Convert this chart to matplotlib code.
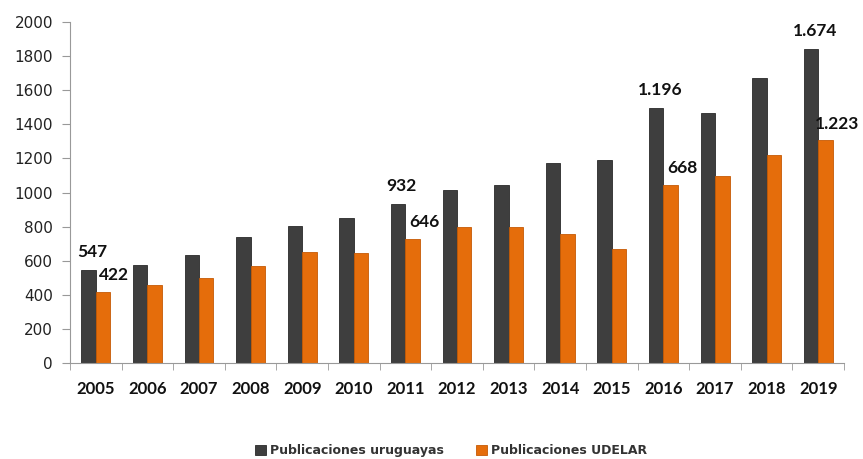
import matplotlib.pyplot as plt
import numpy as np

# Publicaciones por año
years = ['2005', '2006', '2007', '2008', '2009', '2010', '2011', '2012',
         '2013', '2014', '2015', '2016', '2017', '2018', '2019']
uruguayas = [545, 578, 632, 738, 805, 848, 931, 1015, 1046, 1171, 1192,
             1497, 1463, 1673, 1842]
udelar = [419, 457, 498, 571, 649, 644, 727, 799, 799, 755, 672,
          1044, 1097, 1222, 1306]

# etiquetas que aparecen sobre algunas barras
labels_uy = {0: '547', 6: '932', 11: '1.196', 14: '1.674'}
labels_ud = {0: '422', 6: '646', 11: '668', 14: '1.223'}

plt.rcParams['font.family'] = ['Lato', 'DejaVu Sans']

fig = plt.figure(figsize=(8.63, 4.59), dpi=100)
ax = fig.add_axes([0.0811, 0.2085, 0.897, 0.7442])

x = np.arange(len(years))
w = 0.28
c_dark = '#3e3e3e'
c_orange = '#e56d0b'
b1 = ax.bar(x - w / 2, uruguayas, w, color=c_dark, edgecolor='#2a2a2a',
            linewidth=0.6, label='Publicaciones uruguayas')
b2 = ax.bar(x + w / 2, udelar, w, color=c_orange, edgecolor='#c55a05',
            linewidth=0.6, label='Publicaciones UDELAR')

for i, t in labels_uy.items():
    ax.annotate(t, (x[i] - w / 2 + 0.07, uruguayas[i]), xytext=(0, 13),
                textcoords='offset points', ha='center', va='center',
                fontsize=12.5, fontweight='bold', color='#111111')
for i, t in labels_ud.items():
    ax.annotate(t, (x[i] + w / 2 + 0.22, udelar[i]), xytext=(0, 12),
                textcoords='offset points', ha='center', va='center',
                fontsize=12.5, fontweight='bold', color='#111111')

ax.set_xlim(-0.5, len(years) - 0.5)
ax.set_ylim(0, 2000)
ax.set_yticks(range(0, 2001, 200))
ax.set_yticklabels([str(v) for v in range(0, 2001, 200)],
                   family='DejaVu Sans', fontsize=11, color='#222222')
ax.tick_params(axis='y', length=5.8, color='#999999', pad=6.5)
ax.set_xticks(x)
ax.set_xticklabels(years, fontsize=12, fontweight='bold', color='#111111')
ax.tick_params(axis='x', length=0, pad=13)
ax.set_xticks(np.arange(-0.5, len(years), 1), minor=True)
ax.tick_params(axis='x', which='minor', length=5, color='#999999')

for s in ['top', 'right']:
    ax.spines[s].set_visible(False)
ax.spines['left'].set_color('#999999')
ax.spines['bottom'].set_color('#999999')

leg = fig.legend(handles=[b1, b2], loc='center', bbox_to_anchor=(0.523, 0.018),
                 ncol=2, frameon=False, handlelength=0.85, handleheight=0.85,
                 columnspacing=2.6, handletextpad=0.35,
                 prop={'family': 'DejaVu Sans', 'weight': 'bold', 'size': 9})
for t in leg.get_texts():
    t.set_color('#333333')

fig.savefig('out.png', dpi=100)
